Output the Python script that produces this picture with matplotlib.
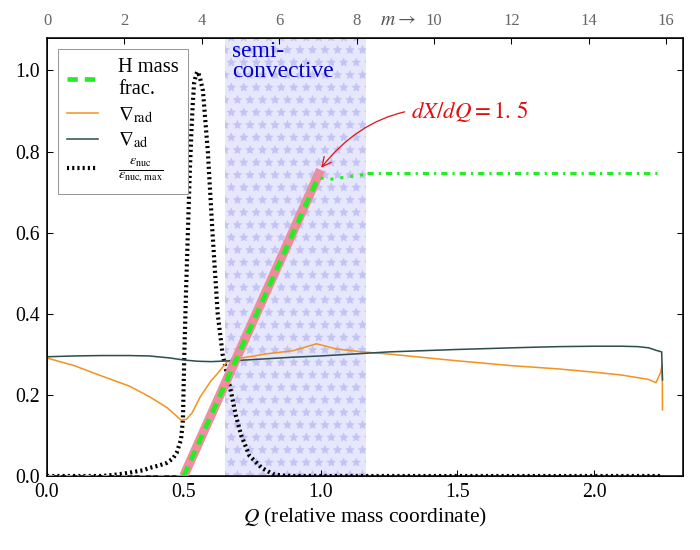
import numpy as np
import matplotlib
matplotlib.use('Agg')
import matplotlib.pyplot as plt

plt.rcParams['font.family'] = ['Liberation Serif', 'DejaVu Serif']
plt.rcParams['mathtext.fontset'] = 'stix'
plt.rcParams['hatch.linewidth'] = 0.6

# values
# radiative gradient
q_rad = [0.0, 0.1, 0.19, 0.3, 0.376, 0.44, 0.47, 0.49, 0.51, 0.53, 0.56, 0.6, 0.62,
         0.66, 0.7, 0.74, 0.8, 0.9, 0.985, 1.06, 1.155, 1.245, 1.5, 1.7, 1.87, 2.0,
         2.1, 2.2, 2.226, 2.243, 2.249, 2.25]
nabla_rad = [0.291, 0.272, 0.249, 0.222, 0.195, 0.168, 0.150, 0.138, 0.140, 0.155,
             0.195, 0.235, 0.250, 0.283, 0.290, 0.294, 0.301, 0.309, 0.326, 0.313,
             0.306, 0.301, 0.284, 0.272, 0.264, 0.256, 0.249, 0.238, 0.230, 0.255,
             0.275, 0.163]

# adiabatic gradient
q_ad = [0.0, 0.1, 0.2, 0.3, 0.374, 0.45, 0.5, 0.55, 0.6, 0.7, 0.8, 0.9, 1.0, 1.25,
        1.5, 1.75, 1.87, 2.0, 2.1, 2.16, 2.2, 2.226, 2.247, 2.25]
nabla_ad = [0.294, 0.296, 0.297, 0.297, 0.296, 0.291, 0.286, 0.283, 0.282, 0.285,
            0.289, 0.293, 0.296, 0.306, 0.312, 0.317, 0.319, 0.320, 0.320, 0.319,
            0.316, 0.310, 0.306, 0.237]

# normalised nuclear energy generation
q_eps = [0.0, 0.2, 0.26, 0.3, 0.35, 0.376, 0.41, 0.437, 0.46, 0.474, 0.49, 0.497,
         0.502, 0.508, 0.515, 0.522, 0.528, 0.533, 0.538, 0.545, 0.55, 0.555, 0.56,
         0.57, 0.588, 0.605, 0.624, 0.642, 0.66, 0.675, 0.69, 0.71, 0.74, 0.785,
         0.825, 0.86, 0.9, 1.5, 2.25]
eps = [0.0, 0.0, 0.004, 0.008, 0.014, 0.02, 0.026, 0.032, 0.043, 0.057, 0.09, 0.14,
       0.3, 0.45, 0.6, 0.75, 0.85, 0.92, 0.97, 0.99, 0.997, 0.99, 0.98, 0.95, 0.8,
       0.6, 0.4, 0.3, 0.245, 0.2, 0.15, 0.1, 0.05, 0.02, 0.005, 0.001, 0.0, 0.0, 0.0]

# hydrogen mass fraction, in pieces drawn with different styles
q_h_core = [0.0, 0.5]
h_core = [0.0, 0.0]
q_h_grad = [0.5, 0.99]
h_grad = [0.0, 0.735]
q_h_semi = [1.0, 1.03, 1.155, 1.17]
h_semi = [0.735, 0.731, 0.743, 0.746]
q_h_env = [1.17, 2.25]
h_env = [0.746, 0.746]

# fitted slope dX/dQ = 1.5
q_fit = [0.5, 1.0]
x_fit = [0.0, 0.755]

semi_zone = (0.65, 1.165)
q_max = 2.325
y_max = 1.08
m_per_q = 7.07
m_ticks = [0, 2, 4, 6, 8, 10, 12, 14, 16]

fig = plt.figure(figsize=(700 / 75, 550 / 75), dpi=75)
ax = fig.add_axes([47 / 700, 74 / 550, 636 / 700, 438 / 550])

ax.axvspan(*semi_zone, facecolor='#e6e6fc', edgecolor='#c4c4f4', hatch='*', lw=0, zorder=0)

ax.plot(q_eps, eps, color='black', lw=4, dashes=(0.5, 0.75), zorder=3,
        label=r'$\frac{\epsilon_{\rm nuc}}{\epsilon_{\rm nuc,\,max}}$')
ax.plot(q_rad, nabla_rad, color='#f39420', lw=1.5, zorder=4, label=r'$\nabla_{\rm rad}$')
ax.plot(q_ad, nabla_ad, color='#2f4f4f', lw=1.5, zorder=4, label=r'$\nabla_{\rm ad}$')

ax.plot(q_fit, x_fit, color='#ee8899', lw=9, alpha=0.95, solid_capstyle='butt', zorder=5)
green = '#22ee22'
ax.plot(q_h_core, h_core, color=green, lw=3, dashes=(2, 1.6, 0.7, 1.6), zorder=6)
ax.plot(q_h_grad, h_grad, color=green, lw=4.5, dashes=(2.2, 1.5), zorder=6,
        label='H mass\nfrac.')
ax.plot(q_h_semi, h_semi, color=green, lw=3, dashes=(1, 2.2), zorder=6)
ax.plot(q_h_env, h_env, color=green, lw=3, dashes=(2, 1.6, 0.7, 1.6), zorder=6)

ax.text(0.675, 1.072, 'semi-\nconvective', color='#0000cc', fontsize=22.5,
        va='top', ha='left', linespacing=0.95, zorder=7)
ax.annotate(r'$dX/dQ=1.\,5$', xy=(1.0, 0.758), xytext=(1.33, 0.9),
            color='#dd1111', fontsize=22, va='center', ha='left',
            arrowprops=dict(arrowstyle='->', color='#dd1111', lw=1.2,
                            connectionstyle='arc3,rad=0.3', shrinkA=4, shrinkB=1))

ax.set_xlim(0, q_max)
ax.set_ylim(0, y_max)
ax.set_xticks(np.arange(0, 2.01, 0.5))
ax.set_yticks(np.arange(0, 1.01, 0.2))
ax.xaxis.set_major_formatter(matplotlib.ticker.FormatStrFormatter('%.1f'))
ax.yaxis.set_major_formatter(matplotlib.ticker.FormatStrFormatter('%.1f'))
ax.tick_params(direction='in', length=6, width=1, labelsize=19, pad=7, right=True, top=False)
ax.set_xlabel(r'$Q$ (relative mass coordinate)', fontsize=20.5, labelpad=4)
for s in ax.spines.values():
    s.set_linewidth(1.5)

handles, labels = ax.get_legend_handles_labels()
order = [3, 1, 2, 0]
leg = ax.legend([handles[i] for i in order], [labels[i] for i in order],
                loc='upper left', fontsize=19.5, handlelength=1.5, handletextpad=1.0,
                borderpad=0.45, labelspacing=0.3, borderaxespad=0.55,
                fancybox=False, framealpha=1, edgecolor='#999999')
leg.get_frame().set_linewidth(1)
leg.set_zorder(8)

ax2 = ax.twiny()
ax2.set_xlim(0, q_max * m_per_q)
ax2.set_xticks(m_ticks)
ax2.tick_params(direction='in', length=6, width=1, labelsize=16, pad=9,
                labelcolor='#666666')
ax2.text(9.07, 1.04, r'$m \rightarrow$', transform=ax2.get_xaxis_transform(),
         fontsize=19, color='#555555', ha='center', va='center')

fig.savefig('out.png', dpi=75)
